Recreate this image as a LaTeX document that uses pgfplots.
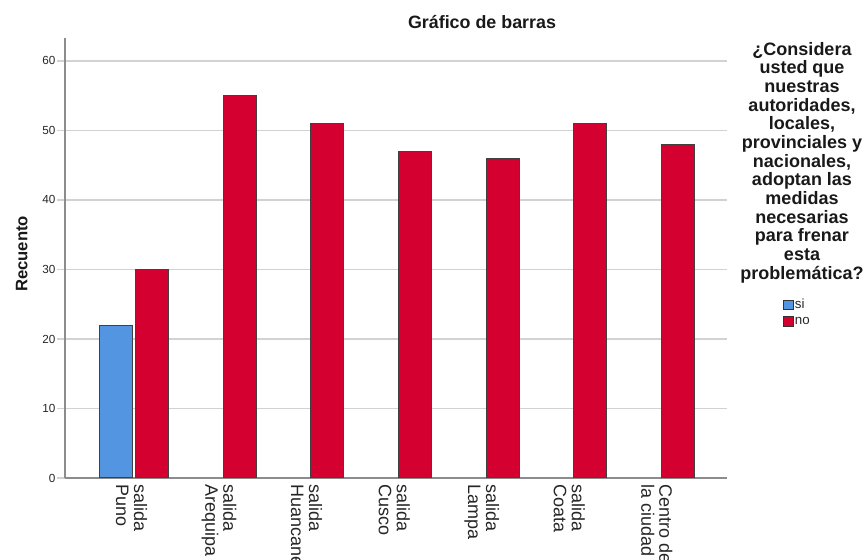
\documentclass[border=0pt]{standalone}
\usepackage{pgfplots}
\pgfplotsset{compat=1.18}
\usepackage{fontspec}
\setmainfont{Liberation Sans}
\definecolor{siblue}{RGB}{84,149,226}
\definecolor{nored}{RGB}{211,0,48}
\definecolor{gridc}{RGB}{210,210,210}
\definecolor{axc}{RGB}{140,140,140}
\begin{document}
\begin{tikzpicture}
\begin{axis}[
  at={(0,0)}, anchor=south west,
  scale only axis,
  width=496.5pt, height=330pt,
  xmin=-0.79, xmax=6.77,
  ymin=0, ymax=63.3,
  axis x line=bottom, axis y line=left,
  axis line style={-, draw=axc, line width=0.9pt},
  ytick={0,10,20,30,40,50,60},
  ymajorgrids, grid style={draw=gridc, line width=0.9pt},
  tick align=outside, major tick length=6pt,
  ytick style={draw=gridc, line width=0.9pt},
  xtick style={draw=none},
  yticklabel style={font=\fontsize{8.8}{10}\selectfont, inner sep=1pt, text=black!85},
  /pgf/number format/assume math mode=true,
  xtick={0,1,2,3,4,5,6},
  xticklabels={{salida\\Puno},{salida\\Arequipa},{salida\\Huancane},{salida\\Cusco},{salida\\Lampa},{salida\\Coata},{Centro de\\la ciudad}},
  xticklabel style={rotate=-90, anchor=west, align=left, font=\fontsize{13.5}{13.5}\selectfont, inner sep=0pt, xshift=-1pt, yshift=-2pt, text=black!85},
  legend style={at={(1.0846,0.41)}, anchor=north west, draw=none, fill=none,
    font=\fontsize{10}{11}\selectfont, row sep=2.5pt, inner sep=0pt,
    nodes={inner sep=1pt, text=black!85}},
  legend cell align=left,
  legend image code/.code={\draw[#1, draw=black!80, line width=0.7pt] (0pt,-3.5pt) rectangle (7pt,3.5pt);},
]
\addplot[ybar, bar width=0.377, bar shift=-0.207, fill=siblue, draw=black!75, line width=0.75pt]
  coordinates {(0,22)};
\addlegendentry{si}
\addplot[ybar, bar width=0.377, bar shift=0.207, fill=nored, draw=black!75, line width=0.75pt]
  coordinates {(0,30) (1,55) (2,51) (3,47) (4,46) (5,51) (6,48)};
\addlegendentry{no}
\end{axis}
\node[font=\fontsize{13.4}{14}\selectfont\bfseries, text=black!90] at (312.75pt,342pt) {Gráfico de barras};
\node[font=\fontsize{12.5}{14}\selectfont\bfseries, rotate=90, text=black!90] at (-32.5pt,168pt) {Recuento};
\node[font=\fontsize{13.5}{14}\selectfont\bfseries, align=center, anchor=north, text=black!90, inner sep=0pt] at (552.75pt,327pt)
  {¿Considera\\usted que\\nuestras\\autoridades,\\locales,\\provinciales y\\nacionales,\\adoptan las\\medidas\\necesarias\\para frenar\\esta\\problemática?};
\pgfresetboundingbox
\useasboundingbox (-48.75pt,-61.5pt) rectangle (599.25pt,358.5pt);
\end{tikzpicture}
\end{document}
